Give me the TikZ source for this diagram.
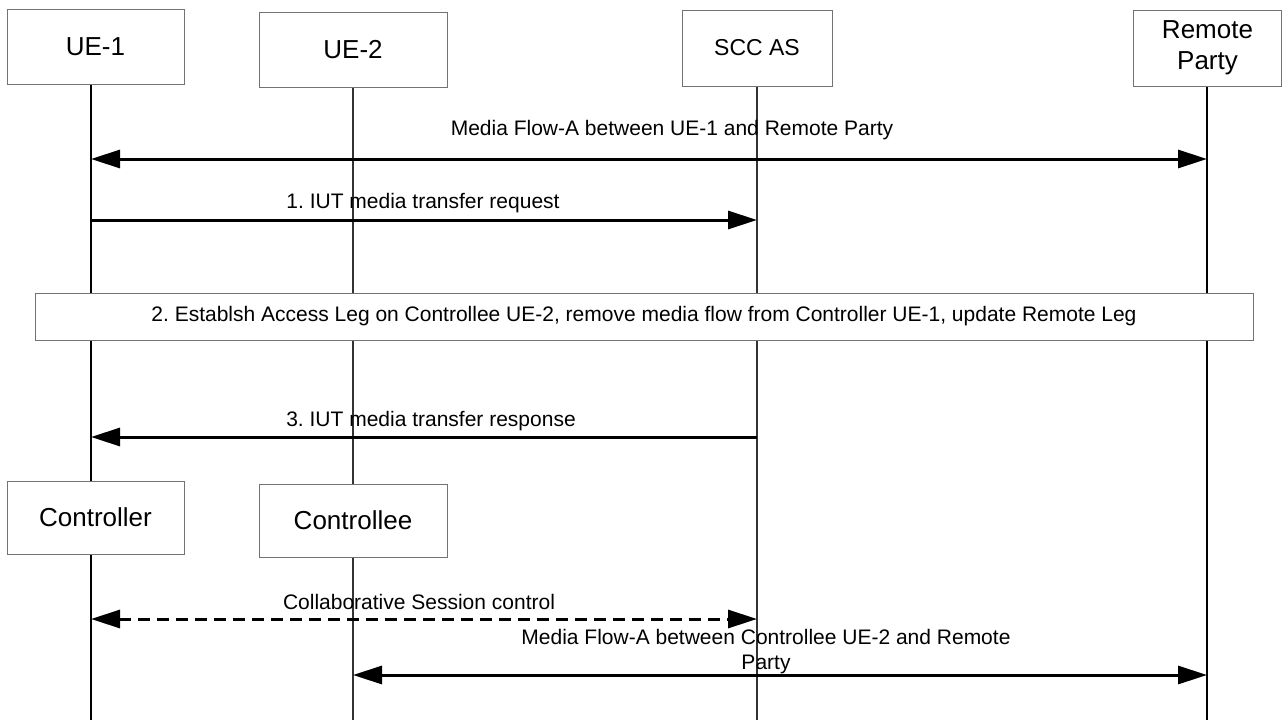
\documentclass[tikz,border=0pt]{standalone}
\usepackage{fontspec}
\setmainfont{Liberation Sans}
\usetikzlibrary{arrows.meta,backgrounds}
\frenchspacing
\tikzset{
  box/.style={draw=black!55, line width=0.9pt, fill=white, inner sep=0pt, align=center},
  namefont/.style={font=\fontsize{26}{31}\selectfont},
  lblfont/.style={font=\fontsize{21}{25}\selectfont, inner sep=0pt},
  lifeA/.style={draw=black, line width=2pt},
  lifeB/.style={draw=black!80, line width=1.4pt},
  msg/.style={line width=3pt, -{Triangle[length=29pt,width=18pt]}},
  msgboth/.style={line width=3pt, {Triangle[length=29pt,width=18pt]}-{Triangle[length=29pt,width=18pt]}},
}
\begin{document}
\begin{tikzpicture}[x=1pt,y=-1pt]
\useasboundingbox (0,0) rectangle (1282,720);
% lifeline x positions
\coordinate (x1) at (91,720);
\coordinate (x2) at (353,720);
\coordinate (x3) at (757,720);
\coordinate (x4) at (1207,720);
% header boxes
\node[box,namefont,minimum width=177,minimum height=75] (ue1) at (95.5,46.5) {UE-1};
\node[box,namefont,minimum width=188,minimum height=75] (ue2) at (353,49.5) {UE-2};
\node[box,font=\fontsize{23}{27}\selectfont,minimum width=150,minimum height=76] (scc) at (757,48) {SCC AS};
\node[box,namefont,minimum width=148,minimum height=76] (rp) at (1207.5,48) {Remote\\Party};
% step 2 box
\node[box,font=\fontsize{21}{25}\selectfont,minimum width=1218,minimum height=47] (s2) at (644,316.5) {2. Establsh Access Leg on Controllee UE-2, remove media flow from Controller UE-1, update Remote Leg};
% role boxes
\node[box,namefont,minimum width=177,minimum height=73] (ctl) at (95.5,517.5) {Controller};
\node[box,namefont,minimum width=188,minimum height=73] (cte) at (353,520.5) {Controllee};
% lifelines
\begin{scope}[on background layer]
\draw[lifeA] (ue1.south -| x1) -- (x1);
\draw[lifeB] (ue2.south -| x2) -- (x2);
\draw[lifeB] (scc.south -| x3) -- (x3);
\draw[lifeA] (rp.south -| x4) -- (x4);
\end{scope}
% message anchor coordinates
\coordinate (m0a) at (91,159);   \coordinate (m0b) at (1207,159);
\coordinate (m1a) at (91,220);   \coordinate (m1b) at (757,220);
\coordinate (m3a) at (757,437);  \coordinate (m3b) at (91,437);
\coordinate (m4a) at (91,619);   \coordinate (m4b) at (757,619);
\coordinate (m5a) at (353,675);  \coordinate (m5b) at (1207,675);
% messages
\draw[msgboth] (m0a) -- (m0b);
\node[lblfont] (t0) at (672,130) {Media Flow-A between UE-1 and Remote Party};
\draw[msg] (m1a) -- (m1b);
\node[lblfont] (t1) at (423,203) {1. IUT media transfer request};
\draw[msg] (m3a) -- (m3b);
\node[lblfont] (t3) at (431,421) {3. IUT media transfer response};
\draw[msgboth, dash pattern=on 12pt off 7pt] (m4a) -- (m4b);
\node[lblfont] (t4) at (419,602) {Collaborative Session control};
\draw[msgboth] (m5a) -- (m5b);
\node[lblfont,align=center] (t5) at (766,652) {Media Flow-A between Controllee UE-2 and Remote\\Party};
\end{tikzpicture}
\end{document}
